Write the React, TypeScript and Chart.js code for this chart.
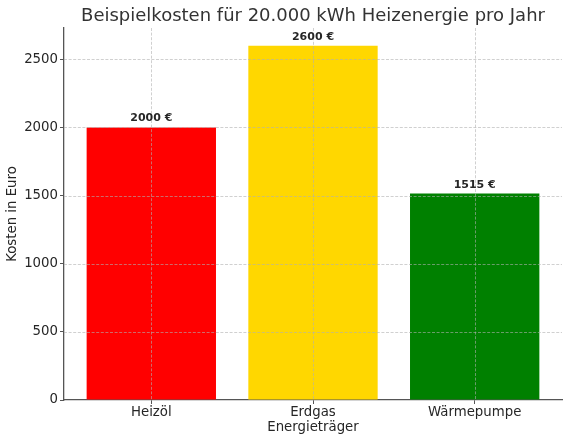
import { useEffect, useRef } from "react";
import { Chart, registerables } from "chart.js";

Chart.register(...registerables);

const categories = ["Heizöl", "Erdgas", "Wärmepumpe"];
const costs = [2000, 2600, 1515];
const barColors = ["#ff0000", "#ffd700", "#008000"];
const yTicks = [0, 500, 1000, 1500, 2000, 2500];
const titleText = "Beispielkosten für 20.000 kWh Heizenergie pro Jahr";
const xAxisTitle = "Energieträger";
const yAxisTitle = "Kosten in Euro";
const unit = "€";

const FONT = "'DejaVu Sans', sans-serif";
const LABEL_SIZE = 13.3;

const overlayPlugin = {
  id: "overlay",
  afterDatasetsDraw(chart: any) {
    const { ctx, chartArea: a, scales } = chart;
    const x = scales.x;
    const y = scales.y;
    ctx.save();
    ctx.strokeStyle = "rgba(176,176,176,0.75)";
    ctx.lineWidth = 0.8;
    ctx.setLineDash([3, 1.6]);
    ctx.beginPath();
    y.ticks.forEach((t: any) => {
      if (t.value === 0) return;
      const py = Math.round(y.getPixelForValue(t.value)) + 0.5;
      ctx.moveTo(a.left, py);
      ctx.lineTo(a.right, py);
    });
    x.ticks.forEach((t: any) => {
      const px = Math.round(x.getPixelForValue(t.value)) + 0.5;
      ctx.moveTo(px, a.top);
      ctx.lineTo(px, a.bottom);
    });
    ctx.stroke();
    ctx.setLineDash([]);
    const meta = chart.getDatasetMeta(0);
    ctx.fillStyle = "#262626";
    ctx.font = `bold 11px ${FONT}`;
    ctx.textAlign = "center";
    ctx.textBaseline = "alphabetic";
    meta.data.forEach((bar: any, i: number) => {
      ctx.fillText(`${costs[i]} ${unit}`, bar.x, bar.y - 6);
    });
    // title centred over the plot area
    ctx.fillStyle = "#333";
    ctx.font = `18px ${FONT}`;
    ctx.textBaseline = "middle";
    ctx.fillText(titleText, (a.left + a.right) / 2, a.top / 2 + 2);
    ctx.restore();
  },
};

export default function App() {
  const ref = useRef<HTMLCanvasElement | null>(null);
  useEffect(() => {
    if (!ref.current) return;
    const chart = new Chart(ref.current, {
      type: "bar",
      data: {
        datasets: [
          {
            data: categories.map((_, i) => ({ x: i, y: costs[i] })),
            backgroundColor: barColors,
            borderWidth: 0,
            barPercentage: 0.8,
            categoryPercentage: 1,
          },
        ],
      },
      options: {
        animation: false,
        responsive: false,
        devicePixelRatio: 1,
        layout: { padding: { left: 0, right: 8, top: 28, bottom: 0 } },
        plugins: {
          legend: { display: false },
          tooltip: { enabled: false },
          title: { display: false },
        },
        scales: {
          x: {
            type: "linear",
            min: -0.54,
            max: 2.54,
            offset: false,
            afterBuildTicks: (s: any) => {
              s.ticks = categories.map((_, i) => ({ value: i }));
            },
            afterFit: (s: any) => {
              s.height = 43;
            },
            ticks: {
              autoSkip: false,
              maxRotation: 0,
              padding: 1,
              color: "#262626",
              font: { family: FONT, size: LABEL_SIZE },
              callback: (v: any) => categories[v] ?? "",
            },
            grid: {
              display: true,
              offset: false,
              drawOnChartArea: false,
              drawTicks: true,
              tickLength: 4,
              tickColor: "#555",
              tickWidth: 1,
            },
            border: { display: true, color: "#555", width: 1.3 },
            title: {
              display: true,
              text: xAxisTitle,
              color: "#262626",
              font: { family: FONT, size: LABEL_SIZE },
              padding: { top: 0, bottom: 7 },
            },
          },
          y: {
            type: "linear",
            min: 0,
            max: 2730,
            afterBuildTicks: (s: any) => {
              s.ticks = yTicks.map((v) => ({ value: v }));
            },
            afterFit: (s: any) => {
              s.width = 64;
            },
            ticks: {
              padding: 2,
              color: "#262626",
              font: { family: FONT, size: LABEL_SIZE },
              callback: (v: any) => String(v),
            },
            grid: {
              display: true,
              drawOnChartArea: false,
              drawTicks: true,
              tickLength: 4,
              tickColor: "#555",
              tickWidth: 1,
            },
            border: { display: true, color: "#555", width: 1.3 },
            title: {
              display: true,
              text: yAxisTitle,
              color: "#262626",
              font: { family: FONT, size: LABEL_SIZE },
              padding: { top: 5, bottom: 0 },
            },
          },
        },
      },
      plugins: [overlayPlugin],
    } as any);
    return () => chart.destroy();
  }, []);
  return (
    <div style={{ position: "fixed", left: 0, top: 0, width: 570, height: 443, background: "#fff" }}>
      <canvas ref={ref} width={570} height={443} style={{ width: 570, height: 443, display: "block" }} />
    </div>
  );
}
